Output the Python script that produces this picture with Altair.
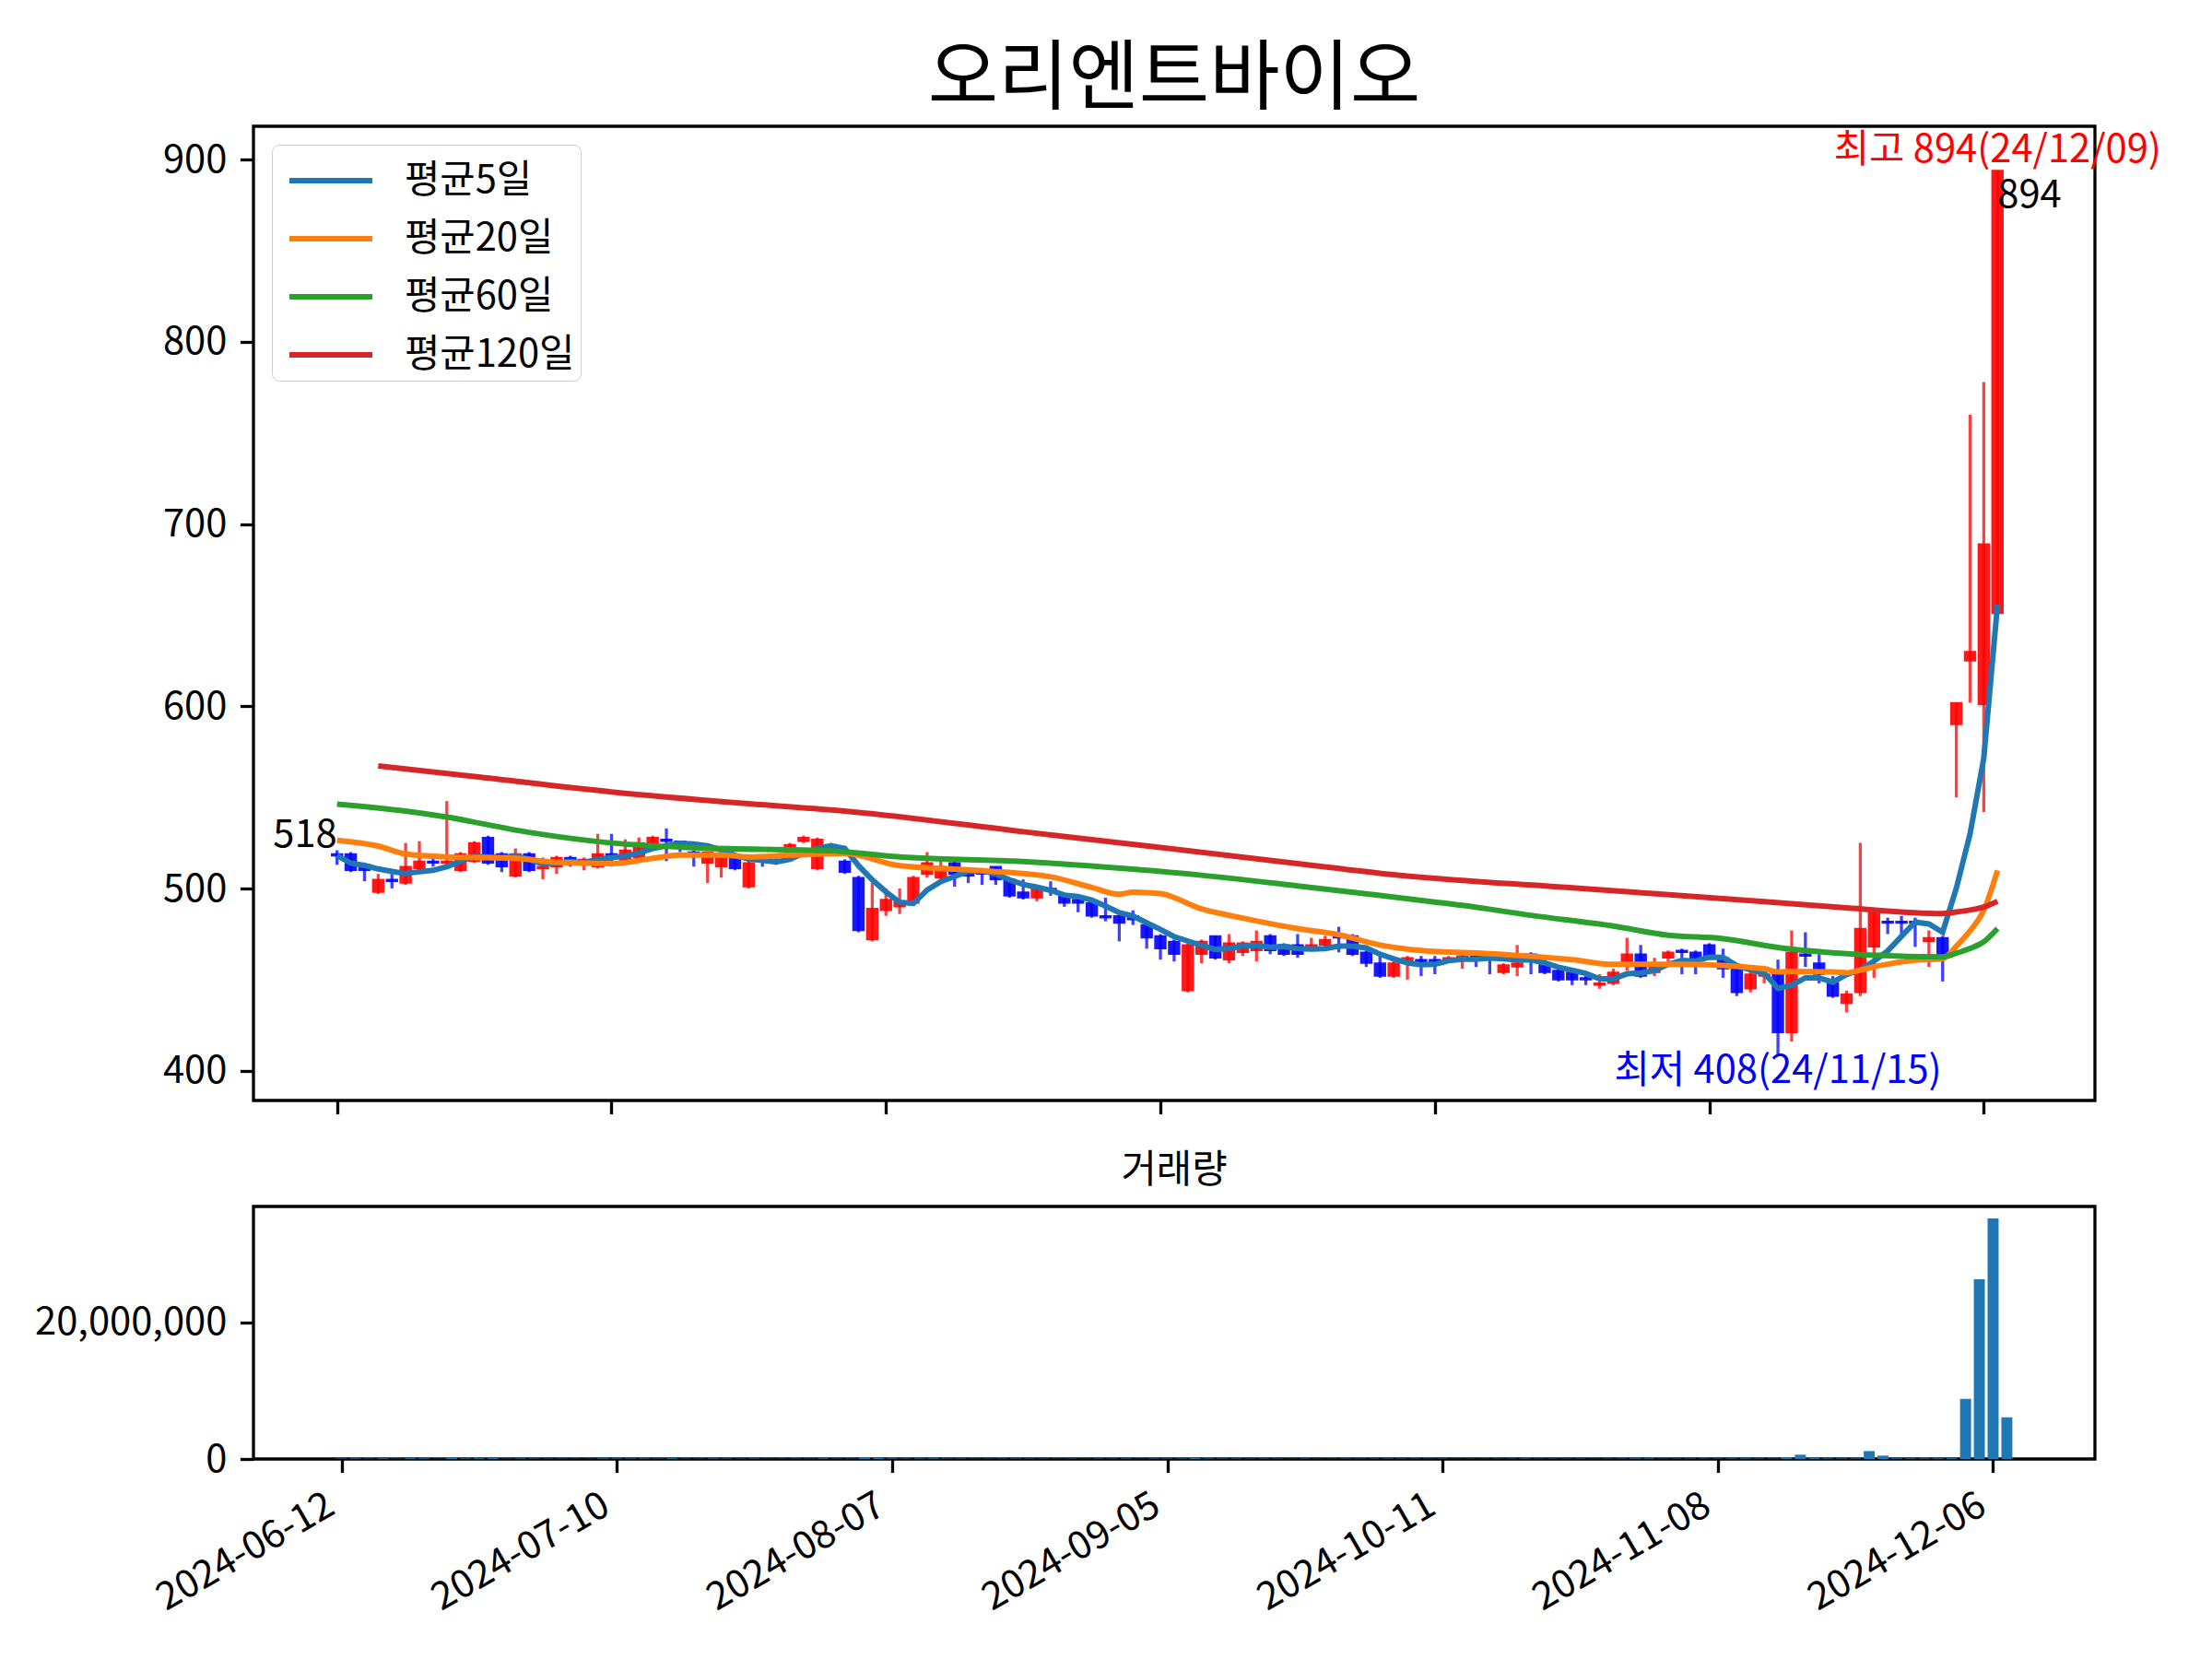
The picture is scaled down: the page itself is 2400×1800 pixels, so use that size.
import altair as alt
import pandas as pd

FONT = "Noto Sans CJK KR"

# ---------------- data ----------------
opens = [519, 519, 513, 498, 505, 503, 511, 515, 514, 510,
         515, 528, 519, 507, 519, 511, 512, 517, 514, 512,
         519, 515, 517, 523, 527, 526, 520, 514, 512, 517,
         501, 516, 514, 518, 526, 511, 524, 515, 506, 472,
         488, 490, 492, 508, 506, 514, 508, 509, 512, 505,
         498, 495, 500, 496, 494, 492, 485, 485, 485, 480,
         474, 471, 444, 464, 474, 461, 465, 466, 474, 469,
         469, 468, 469, 475, 474, 465, 459, 452, 459, 461,
         461, 461, 462, 463, 463, 454, 457, 464, 458, 455,
         454, 451, 447, 448, 460, 464, 454, 462, 466, 465,
         469, 462, 456, 445, 452, 453, 421, 464, 459, 448,
         437, 443, 468, 482, 482, 482, 471, 473, 590, 625,
         601, 651]
highs = [521, 520, 514, 508, 508, 525, 526, 518, 548, 520,
         526, 529, 520, 522, 520, 517, 518, 518, 517, 530,
         530, 527, 528, 529, 533, 526, 521, 520, 517, 518,
         515, 517, 517, 525, 529, 528, 525, 516, 507, 503,
         500, 500, 507, 520, 515, 515, 509, 511, 512, 506,
         505, 501, 504, 497, 495, 494, 495, 487, 488, 481,
         475, 472, 470, 472, 474, 475, 471, 477, 475, 470,
         475, 473, 474, 479, 475, 466, 464, 460, 463, 463,
         463, 463, 464, 463, 463, 459, 469, 465, 461, 456,
         455, 452, 453, 456, 473, 469, 462, 466, 467, 466,
         470, 467, 457, 454, 457, 461, 477, 476, 464, 452,
         444, 525, 488, 484, 485, 484, 477, 474, 602, 760,
         778, 894]
lows = [513, 509, 504, 497, 500, 502, 510, 512, 513, 509,
        514, 513, 509, 506, 509, 505, 508, 512, 510, 511,
        512, 514, 516, 522, 515, 520, 512, 503, 506, 510,
        500, 512, 513, 517, 525, 510, 521, 508, 476, 471,
        485, 486, 491, 506, 505, 501, 503, 502, 502, 495,
        494, 493, 496, 490, 487, 484, 482, 471, 480, 467,
        461, 460, 443, 459, 461, 459, 463, 460, 464, 463,
        462, 467, 468, 465, 463, 457, 451, 451, 450, 452,
        453, 460, 456, 457, 453, 453, 452, 453, 453, 449,
        447, 447, 445, 447, 455, 451, 452, 460, 453, 453,
        461, 451, 441, 443, 448, 408, 416, 457, 448, 440,
        432, 441, 451, 475, 475, 468, 457, 449, 550, 602,
        542, 650]
closes = [518, 510, 510, 505, 504, 512, 515, 514, 515, 519,
          525, 514, 512, 519, 510, 512, 517, 516, 516, 519,
          517, 521, 525, 528, 526, 524, 519, 520, 517, 511,
          514, 515, 516, 524, 528, 527, 522, 509, 477, 489,
          494, 493, 506, 514, 512, 508, 507, 508, 505, 496,
          495, 500, 499, 492, 492, 485, 484, 481, 483, 473,
          467, 464, 469, 471, 462, 470, 470, 471, 466, 464,
          464, 469, 472, 473, 464, 459, 452, 459, 462, 459,
          460, 462, 463, 462, 462, 458, 459, 463, 454, 450,
          450, 450, 448, 454, 464, 452, 457, 465, 465, 462,
          463, 456, 443, 453, 453, 421, 465, 463, 453, 441,
          442, 478, 487, 481, 481, 481, 473, 464, 602, 630,
          689, 894]
volumes = [70000, 90000, 60000, 110000, 50000, 120000, 100000, 40000, 200000, 90000,
           110000, 120000, 60000, 90000, 70000, 50000, 60000, 40000, 40000, 100000,
           90000, 80000, 90000, 60000, 110000, 50000, 50000, 90000, 60000, 50000,
           80000, 40000, 40000, 60000, 50000, 100000, 50000, 60000, 200000, 150000,
           90000, 70000, 90000, 100000, 60000, 70000, 40000, 50000, 60000, 70000,
           60000, 50000, 40000, 50000, 40000, 60000, 60000, 80000, 40000, 80000,
           80000, 70000, 150000, 80000, 70000, 80000, 50000, 70000, 50000, 40000,
           60000, 40000, 40000, 60000, 60000, 50000, 70000, 60000, 60000, 50000,
           50000, 30000, 40000, 40000, 50000, 50000, 80000, 50000, 50000, 50000,
           50000, 40000, 50000, 60000, 100000, 90000, 60000, 50000, 60000, 60000,
           60000, 80000, 100000, 70000, 60000, 230000, 630000, 150000, 90000, 80000,
           90000, 1160000, 490000, 100000, 90000, 90000, 100000, 120000, 8800000, 26300000,
           35200000, 6100000]

ma20_idx = [0, 3, 5, 8, 13, 16, 20, 23, 25, 28, 30, 33, 37, 41, 47, 52, 55, 57, 58, 60,
            63, 66, 70, 73, 76, 79, 84, 90, 93, 98, 104, 105, 106, 109, 110, 111, 112, 113,
            115, 117, 118, 119, 120, 121]
ma20_val = [526.5, 523.3, 519.0, 517.4, 516.6, 514.4, 513.7, 516.6, 518.3, 518.3, 517.4,
            518.3, 519.3, 512.5, 509.8, 506.4, 500.6, 496.9, 498.0, 497.2, 488.8, 483.8,
            478.0, 474.6, 469.0, 466.0, 464.3, 461.0, 458.4, 458.4, 456.0, 454.2, 454.5,
            454.2, 453.8, 455.2, 457.1, 458.5, 460.7, 461.5, 468.4, 476.8, 488.1, 510.0]
ma60_idx = [0, 6, 8, 14, 20, 26, 36, 41, 50, 58, 63, 70, 76, 79, 82, 87, 93, 97, 101,
            105, 110, 117, 118, 119, 120, 121]
ma60_val = [546.3, 541.5, 539.2, 530.8, 525.0, 522.4, 520.7, 517.3, 514.8, 510.6, 507.3,
            501.4, 496.2, 493.5, 490.8, 485.3, 479.4, 474.4, 472.5, 467.7, 464.3, 462.5,
            464.5, 467.1, 470.8, 478.0]
ma120_idx = [3, 10, 20, 30, 37, 50, 60, 70, 77, 90, 104, 110, 117, 118, 119, 120, 121]
ma120_val = [567.3, 561.5, 553.0, 546.5, 542.5, 531.2, 522.5, 513.7, 507.6, 500.4, 492.8,
             489.4, 486.3, 487.1, 488.2, 489.8, 493.0]

series_names = ["평균5일", "평균20일", "평균60일", "평균120일"]
series_colors = ["#1f77b4", "#ff7f0e", "#2ca02c", "#d62728"]

tick_idx = [0, 20, 40, 60, 80, 100, 120]
tick_labels = ["2024-06-12", "2024-07-10", "2024-08-07", "2024-09-05",
               "2024-10-11", "2024-11-08", "2024-12-06"]
y_ticks = [400, 500, 600, 700, 800, 900]
vol_ticks = [0, 20000000]

title_text = "오리엔트바이오"
vol_title = "거래량"
first_label = ["518"]
last_label = ["894"]
high_label = ["최고 894(24/12/09)"]
low_label = ["최저 408(24/11/15)"]
high_pos = [121, 894]
low_pos = [105, 408]
first_pos = [0, 518]

# ---------------- tables ----------------
n = len(closes)
candles = pd.DataFrame({"i": list(range(n)), "open": opens, "high": highs,
                        "low": lows, "close": closes, "volume": volumes})
ma_rows = []
for name, idx, val in [(series_names[1], ma20_idx, ma20_val),
                       (series_names[2], ma60_idx, ma60_val),
                       (series_names[3], ma120_idx, ma120_val)]:
    for a, b in zip(idx, val):
        ma_rows.append({"i": a, "v": b, "series": name})
ma_df = pd.DataFrame(ma_rows)

# ---------------- styling ----------------
LW = 3.3
TICK = 14.6
FS = 41.7
PW = 1998
PH = 1057
VH = 274
MAW = 6

xscale = alt.Scale(domain=[-6.09, 128.1], nice=False, zero=False)
yscale = alt.Scale(domain=[383.7, 918.3], nice=False, zero=False)
xaxis = alt.Axis(values=tick_idx, labels=False, title=None, grid=False)
yaxis = alt.Axis(values=y_ticks, title=None, grid=False)
updown = "datum.close >= datum.open"
ccol = alt.condition(updown, alt.value("#ff0000"), alt.value("#0000ff"))
cscale = alt.Scale(domain=series_names, range=series_colors)
legend = alt.Legend(title=None, orient="top-left", offset=20, labelFontSize=FS,
                    labelFont=FONT, labelColor="black", symbolType="M-1.5,0H1.5",
                    symbolSize=3600, symbolStrokeWidth=MAW, symbolOffset=25,
                    labelOffset=47, padding=6, rowPadding=8, strokeColor="#cccccc",
                    fillColor="white", cornerRadius=8, labelLimit=400)

base = alt.Chart(candles)
wicks = base.mark_rule(strokeWidth=LW, opacity=0.75).encode(
    x=alt.X("i:Q", scale=xscale, axis=xaxis),
    y=alt.Y("low:Q", scale=yscale, axis=yaxis),
    y2="high:Q",
    color=ccol,
)
bodies = base.transform_calculate(
    x1="datum.i - 0.4", x2="datum.i + 0.4"
).mark_bar(opacity=0.9, strokeWidth=1.5).encode(
    x=alt.X("x1:Q", scale=xscale, axis=xaxis),
    x2="x2:Q",
    y=alt.Y("open:Q", scale=yscale, axis=yaxis),
    y2="close:Q",
    color=ccol,
    stroke=ccol,
)
ma5 = base.transform_window(
    ma="mean(close)", frame=[-4, 0], sort=[alt.SortField("i")]
).transform_calculate(series="'%s'" % series_names[0]).mark_line(strokeWidth=MAW).encode(
    x=alt.X("i:Q", scale=xscale, axis=xaxis),
    y=alt.Y("ma:Q", scale=yscale, axis=yaxis),
    color=alt.Color("series:N", scale=cscale, legend=legend),
)
mas = alt.Chart(ma_df).mark_line(strokeWidth=MAW, interpolate="monotone").encode(
    x=alt.X("i:Q", scale=xscale, axis=xaxis),
    y=alt.Y("v:Q", scale=yscale, axis=yaxis),
    color=alt.Color("series:N", scale=cscale, legend=legend),
    detail="series:N",
)

def label(pos, txt, color, align, baseline, dy=0):
    df = pd.DataFrame({"i": [pos[0]], "v": [pos[1]], "t": txt})
    return alt.Chart(df).mark_text(align=align, baseline=baseline, dy=dy, fontSize=FS,
                                   font=FONT, color=color).encode(
        x=alt.X("i:Q", scale=xscale, axis=xaxis),
        y=alt.Y("v:Q", scale=yscale, axis=yaxis),
        text="t:N",
    )

t_first = label(first_pos, first_label, "black", "right", "bottom")
t_last = label(high_pos, last_label, "black", "left", "top", dy=7)
t_high = label(high_pos, high_label, "red", "center", "bottom")
t_low = label(low_pos, low_label, "blue", "center", "middle", dy=16)

main = alt.layer(wicks, bodies, ma5, mas, t_first, t_last, t_high, t_low).properties(
    width=PW, height=PH,
    title=alt.TitleParams(title_text, fontSize=83, font=FONT, fontWeight="normal",
                          anchor="middle", frame="group", offset=8, color="black"),
)

vscale_x = alt.Scale(domain=[-6.4, 127.4], nice=False, zero=False)
label_expr = "[" + ",".join("'%s'" % t for t in tick_labels) + "][round(datum.value/20)]"
vol = alt.Chart(candles).transform_calculate(
    x1="datum.i - 0.4", x2="datum.i + 0.4"
).mark_bar(color="#1f77b4").encode(
    x=alt.X("x1:Q", scale=vscale_x,
            axis=alt.Axis(values=tick_idx, labelExpr=label_expr, labelAngle=330,
                          labelAlign="right", labelBaseline="top", labelOffset=-22,
                          title=None, grid=False)),
    x2="x2:Q",
    y=alt.Y("volume:Q", scale=alt.Scale(domain=[0, 36960000], nice=False),
            axis=alt.Axis(values=vol_ticks, format=",d", title=None, grid=False)),
    y2=alt.datum(0),
).properties(
    width=PW, height=VH,
    title=alt.TitleParams(vol_title, fontSize=FS, font=FONT, fontWeight="normal",
                          anchor="middle", frame="group", offset=17, color="black"),
)

chart = alt.vconcat(main, vol, spacing=36).properties(
    padding={"left": 27, "top": 36, "right": 10, "bottom": 10}
).configure(
    font=FONT, background="white"
).configure_view(
    stroke="black", strokeWidth=LW
).configure_axis(
    domain=False, ticks=True, tickColor="black", tickWidth=LW, tickSize=TICK,
    labelFontSize=FS, labelFont=FONT, labelColor="black", labelPadding=TICK,
    labelLimit=0,
)

chart.save("out.html", embed_options={"renderer": "svg", "actions": False})
